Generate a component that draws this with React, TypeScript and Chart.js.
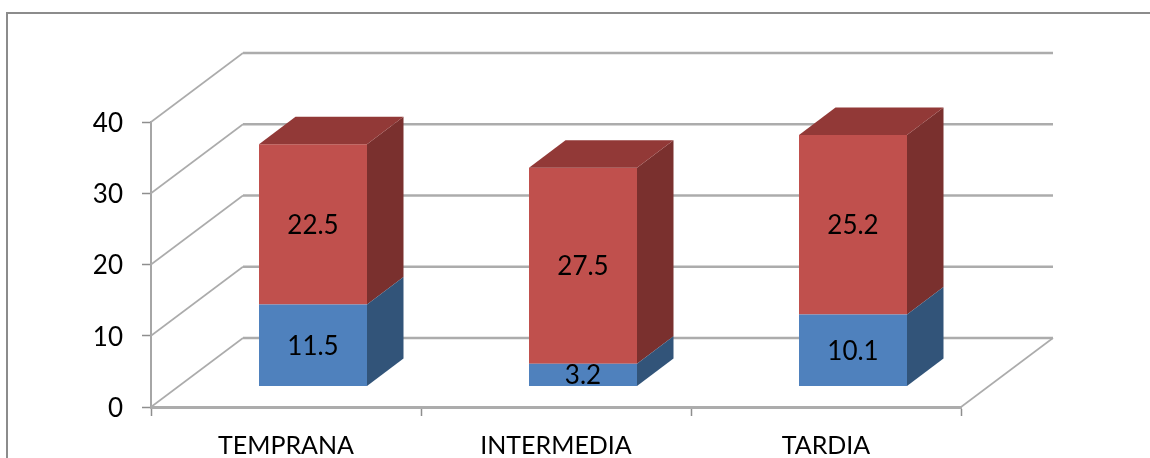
import React, { useEffect, useRef } from "react";
import { Chart, registerables } from "chart.js";

Chart.register(...registerables);

const categories = ["TEMPRANA", "INTERMEDIA", "TARDIA"];
const lowerValues = [11.5, 3.2, 10.1];
const upperValues = [22.5, 27.5, 25.2];
const valueTicks = [0, 10, 20, 30, 40];

const FONT = "Lato, 'Open Sans', sans-serif";
const WALL_DX = 92;
const WALL_DY = -69;
const BAR_DX = 27;
const BAR_DY = -20.5;
const DEPTH_DX = 36.5;
const DEPTH_DY = -27.5;
const lowerFaces = { front: "#4F81BD", side: "#325479" };
const upperFaces = { front: "#C0504D", side: "#7A302E", top: "#923937" };

function quad(ctx: CanvasRenderingContext2D, pts: number[][], fill: string) {
  ctx.beginPath();
  pts.forEach(([x, y], i) => (i ? ctx.lineTo(x, y) : ctx.moveTo(x, y)));
  ctx.closePath();
  ctx.fillStyle = fill;
  ctx.fill();
}

// Back wall, side wall and floor of the 3D frame, placed from the value scale.
const wallsPlugin = {
  id: "walls",
  beforeDatasetsDraw(chart: any) {
    const { ctx, chartArea, scales } = chart;
    ctx.save();
    ctx.strokeStyle = "#ACACAC";
    valueTicks.forEach((v) => {
      const y = scales.y.getPixelForValue(v);
      ctx.lineWidth = 1.6;
      ctx.beginPath();
      ctx.moveTo(chartArea.left, y);
      ctx.lineTo(chartArea.left + WALL_DX, y + WALL_DY);
      ctx.stroke();
      ctx.lineWidth = 2.4;
      ctx.beginPath();
      ctx.moveTo(chartArea.left + WALL_DX, y + WALL_DY);
      ctx.lineTo(chartArea.right + WALL_DX, y + WALL_DY);
      ctx.stroke();
    });
    ctx.lineWidth = 1.6;
    ctx.beginPath();
    ctx.moveTo(chartArea.right, chartArea.bottom);
    ctx.lineTo(chartArea.right + WALL_DX, chartArea.bottom + WALL_DY);
    ctx.stroke();
    ctx.restore();
  },
};

// Shifts each stacked segment onto the floor and adds its side and top faces.
const prismPlugin = {
  id: "prism",
  beforeDatasetDraw(chart: any) {
    chart.ctx.save();
    chart.ctx.translate(BAR_DX, BAR_DY);
  },
  afterDatasetDraw(chart: any, args: any) {
    const { ctx } = chart;
    const faces: any = args.index === 0 ? lowerFaces : upperFaces;
    args.meta.data.forEach((bar: any) => {
      const { x, y, base, width } = bar.getProps(["x", "y", "base", "width"], true);
      const r = x + width / 2;
      const l = x - width / 2;
      quad(ctx, [[r, y], [r + DEPTH_DX, y + DEPTH_DY], [r + DEPTH_DX, base + DEPTH_DY], [r, base]], faces.side);
      if (faces.top) {
        quad(ctx, [[l, y], [l + DEPTH_DX, y + DEPTH_DY], [r + DEPTH_DX, y + DEPTH_DY], [r, y]], faces.top);
      }
    });
    ctx.restore();
  },
  afterDatasetsDraw(chart: any) {
    const { ctx } = chart;
    ctx.save();
    ctx.fillStyle = "#000";
    ctx.font = `26px ${FONT}`;
    ctx.textAlign = "center";
    ctx.textBaseline = "middle";
    chart.data.datasets.forEach((ds: any, i: number) => {
      chart.getDatasetMeta(i).data.forEach((bar: any, j: number) => {
        const { x, y, base } = bar.getProps(["x", "y", "base"], true);
        ctx.fillText(ds.data[j].toFixed(1), x + BAR_DX, (y + base) / 2 + BAR_DY + 1);
      });
    });
    ctx.restore();
  },
};

export default function App() {
  const ref = useRef<HTMLCanvasElement>(null);

  useEffect(() => {
    const chart = new Chart(ref.current as HTMLCanvasElement, {
      type: "bar",
      data: {
        labels: categories,
        datasets: [
          { label: "A", data: lowerValues, backgroundColor: lowerFaces.front, clip: false },
          { label: "B", data: upperValues, backgroundColor: upperFaces.front, clip: false },
        ],
      } as any,
      options: {
        animation: false,
        responsive: false,
        layout: { padding: { left: 0, right: 189, top: 122, bottom: 0 } },
        datasets: { bar: { categoryPercentage: 1, barPercentage: 0.4 } },
        plugins: { legend: { display: false }, tooltip: { enabled: false } },
        scales: {
          x: {
            stacked: true,
            afterFit: (s: any) => { s.height = 51; },
            border: { display: true, color: "#ACACAC", width: 3 },
            grid: { drawOnChartArea: false, drawTicks: true, tickLength: 9, color: "#8E8E8E", tickWidth: 1.5 },
            ticks: { color: "#000", font: { family: FONT, size: 25 }, padding: 15, maxRotation: 0 },
          },
          y: {
            stacked: true,
            min: 0,
            max: 40,
            afterFit: (s: any) => { s.width = 151; },
            afterBuildTicks: (s: any) => { s.ticks = valueTicks.map((value) => ({ value })); },
            border: { display: true, color: "#A6A6A6", width: 2 },
            grid: { drawOnChartArea: false, drawTicks: true, tickLength: 9, color: "#8E8E8E", tickWidth: 1.5 },
            ticks: { color: "#000", font: { family: FONT, size: 26 }, padding: 19, labelOffset: 1.5 },
          },
        },
      } as any,
      plugins: [wallsPlugin, prismPlugin],
    });
    return () => chart.destroy();
  }, []);

  return (
    <div style={{ position: "fixed", left: 0, top: 0, width: 1150, height: 458, overflow: "hidden", background: "#fff" }}>
      <canvas ref={ref} width={1150} height={458} style={{ position: "absolute", left: 0, top: 0 }} />
      <div
        style={{
          position: "absolute",
          left: 6,
          top: 12,
          width: 1200,
          height: 500,
          borderLeft: "2px solid #8C8C8C",
          borderTop: "2px solid #8C8C8C",
        }}
      />
    </div>
  );
}
